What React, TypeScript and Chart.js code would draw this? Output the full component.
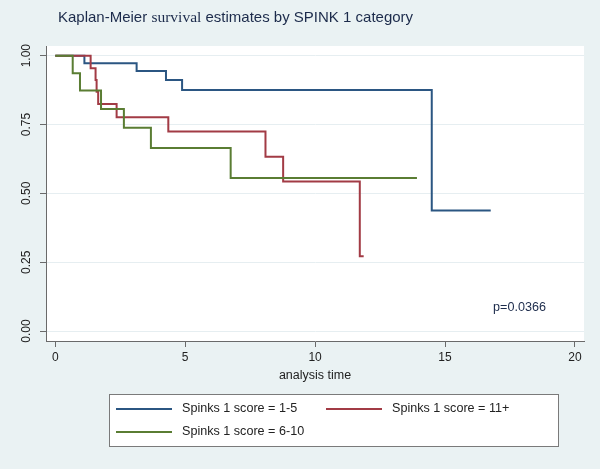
import React, { useEffect, useRef } from "react";
import { Chart, registerables } from "chart.js";

Chart.register(...registerables);

// ---- data ----
const seriesLabels = ["Spinks 1 score = 1-5", "Spinks 1 score = 11+", "Spinks 1 score = 6-10"];
const seriesColors = ["#2b5682", "#a23b45", "#5a7d33"];

const timesLow = [0, 1.12, 3.13, 4.26, 4.88, 14.49, 16.76];
const survLow = [1, 0.972, 0.944, 0.912, 0.875, 0.438, 0.438];

const timesHigh = [0, 1.36, 1.55, 1.59, 1.65, 2.36, 4.35, 8.09, 8.77, 11.72, 11.87];
const survHigh = [1, 0.954, 0.912, 0.869, 0.824, 0.776, 0.725, 0.633, 0.543, 0.272, 0.272];

const timesMid = [0, 0.67, 0.95, 1.76, 2.64, 3.68, 6.75, 13.92];
const survMid = [1, 0.936, 0.873, 0.806, 0.738, 0.665, 0.556, 0.556];

const xTicks = [0, 5, 10, 15, 20];
const yTicks = [0, 0.25, 0.5, 0.75, 1];
const yTickLabels = ["0.00", "0.25", "0.50", "0.75", "1.00"];

const titleParts = [
  { text: "Kaplan-Meier ", serif: false },
  { text: "survival", serif: true },
  { text: " estimates by SPINK 1 category", serif: false },
];
const xAxisTitle = "analysis time";
const pValueText = "p=0.0366";
const pValueX = 16.85;
const pValueY = 0.086;

const SANS = '"Liberation Sans", Arial, sans-serif';
const SERIF = '"Liberation Serif", "Times New Roman", serif';

const toPoints = (ts: number[], ss: number[]) => ts.map((t, i) => ({ x: t, y: ss[i] }));

const bgPlugin = {
  id: "bgPlugin",
  beforeDraw(chart: any) {
    const { ctx, chartArea } = chart;
    ctx.save();
    ctx.fillStyle = "#eaf2f3";
    ctx.fillRect(0, 0, chart.width, chart.height);
    ctx.fillStyle = "#ffffff";
    ctx.fillRect(chartArea.left, chartArea.top, chartArea.right - chartArea.left, chartArea.bottom - chartArea.top);
    ctx.restore();
  },
};

const textPlugin = {
  id: "textPlugin",
  afterDraw(chart: any) {
    const { ctx } = chart;
    const xs = chart.scales.x;
    const ys = chart.scales.y;
    ctx.save();

    // title (mixed fonts)
    let tx = 58;
    ctx.textBaseline = "alphabetic";
    ctx.textAlign = "left";
    ctx.fillStyle = "#1c2b4b";
    for (const p of titleParts) {
      ctx.font = p.serif ? `15.5px ${SERIF}` : `15px ${SANS}`;
      ctx.fillText(p.text, tx, 22);
      tx += ctx.measureText(p.text).width;
    }

    // y tick labels, rotated
    ctx.font = `12px ${SANS}`;
    ctx.fillStyle = "#222222";
    ctx.textAlign = "center";
    ctx.textBaseline = "middle";
    yTicks.forEach((v, i) => {
      const py = ys.getPixelForValue(v);
      ctx.save();
      ctx.translate(26.5, py);
      ctx.rotate(-Math.PI / 2);
      ctx.fillText(yTickLabels[i], 0, 0);
      ctx.restore();
    });

    // x axis title
    ctx.font = `12.5px ${SANS}`;
    ctx.textAlign = "center";
    ctx.textBaseline = "alphabetic";
    ctx.fillText(xAxisTitle, (chart.chartArea.left + chart.chartArea.right) / 2, 379);

    // p value
    ctx.font = `12.6px ${SANS}`;
    ctx.fillStyle = "#1c2b4b";
    ctx.textAlign = "left";
    ctx.textBaseline = "middle";
    ctx.fillText(pValueText, xs.getPixelForValue(pValueX), ys.getPixelForValue(pValueY));

    // legend
    ctx.fillStyle = "#ffffff";
    ctx.fillRect(109.5, 394.5, 449, 52);
    ctx.strokeStyle = "#7a7a7a";
    ctx.lineWidth = 1;
    ctx.strokeRect(109.5, 394.5, 449, 52);
    const slots = [
      { lx: 116, tx: 182, y: 409 },
      { lx: 326, tx: 392, y: 409 },
      { lx: 116, tx: 182, y: 432 },
    ];
    chart.data.datasets.forEach((ds: any, i: number) => {
      const s = slots[i];
      ctx.strokeStyle = ds.borderColor;
      ctx.lineWidth = 2;
      ctx.beginPath();
      ctx.moveTo(s.lx, s.y);
      ctx.lineTo(s.lx + 56, s.y);
      ctx.stroke();
      ctx.fillStyle = "#222222";
      ctx.font = `12.6px ${SANS}`;
      ctx.textAlign = "left";
      ctx.textBaseline = "middle";
      ctx.fillText(ds.label, s.tx, s.y);
    });

    ctx.restore();
  },
};

export default function App() {
  const ref = useRef<HTMLCanvasElement | null>(null);

  useEffect(() => {
    document.body.style.margin = "0";
    const canvas = ref.current;
    if (!canvas) return;
    const series = [
      [timesLow, survLow],
      [timesHigh, survHigh],
      [timesMid, survMid],
    ];
    const chart = new Chart(canvas, {
      type: "line",
      data: {
        datasets: series.map(([ts, ss], i) => ({
          label: seriesLabels[i],
          data: toPoints(ts, ss),
          borderColor: seriesColors[i],
          backgroundColor: seriesColors[i],
          borderWidth: 2,
          stepped: "before" as const,
          pointRadius: 0,
          fill: false,
          order: 2 - i,
        })),
      },
      options: {
        responsive: false,
        animation: false,
        devicePixelRatio: 1,
        layout: { padding: { top: 46, right: 16, left: 0, bottom: 0 } },
        plugins: {
          legend: { display: false },
          title: { display: false },
          tooltip: { enabled: false },
        },
        scales: {
          x: {
            type: "linear",
            min: -0.358,
            max: 20.35,
            afterBuildTicks: (s: any) => {
              s.ticks = xTicks.map((v) => ({ value: v }));
            },
            afterFit: (s: any) => {
              s.height = 128;
            },
            grid: { drawOnChartArea: false, drawTicks: true, tickLength: 6, tickColor: "#6a6a6a" },
            border: { color: "#6a6a6a", width: 1 },
            ticks: {
              font: { family: SANS, size: 12 },
              color: "#222222",
              padding: 3,
              maxRotation: 0,
              minRotation: 0,
              callback: (v: any) => String(v),
            },
          },
          y: {
            type: "linear",
            min: -0.036,
            max: 1.035,
            afterBuildTicks: (s: any) => {
              s.ticks = yTicks.map((v) => ({ value: v }));
            },
            afterFit: (s: any) => {
              s.width = 46;
            },
            grid: { color: "#e6eef1", lineWidth: 1, drawTicks: true, tickLength: 6, tickColor: "#6a6a6a" },
            border: { color: "#6a6a6a", width: 1 },
            ticks: { display: false },
          },
        },
      },
      plugins: [bgPlugin, textPlugin],
    } as any);
    return () => chart.destroy();
  }, []);

  return (
    <div style={{ position: "absolute", left: 0, top: 0, width: 600, height: 469 }}>
      <canvas ref={ref} width={600} height={469} style={{ width: 600, height: 469, display: "block" }} />
    </div>
  );
}
